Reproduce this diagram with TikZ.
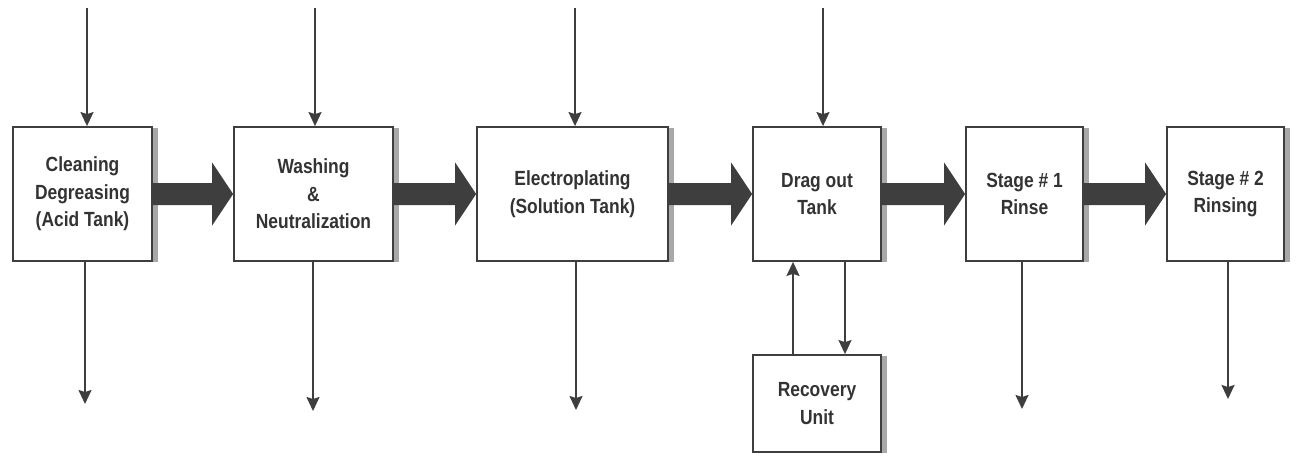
\documentclass[tikz,border=0pt]{standalone}
\usepackage{fontspec}
\setmainfont{Liberation Sans}[FakeStretch=0.85]
\usetikzlibrary{arrows.meta,calc,shadows}
\definecolor{linec}{HTML}{3E3E3E}
\definecolor{textc}{HTML}{333333}
\definecolor{shadc}{HTML}{A8A8A8}
\tikzset{
  proc/.style={draw=linec, line width=1.8pt, fill=white, align=center, inner sep=0pt,
    text=textc, font=\fontsize{20.5}{27.5}\selectfont\bfseries,
    drop shadow={shadow xshift=6pt, shadow yshift=-1pt, fill=shadc, opacity=1}},
  flow/.style={draw=linec, line width=1.8pt, -{Stealth[length=14pt,width=13pt,inset=2pt]}},
  bigarr/.style={fill=linec}
}
\newcommand{\bigarrow}[2]{%
  \fill[bigarr] ($(#1.east)+(0,11)$) -- ($(#2.west)+(-21,11)$) -- ($(#2.west)+(-21,31.5)$) -- (#2.west)
   -- ($(#2.west)+(-21,-31.5)$) -- ($(#2.west)+(-21,-11)$) -- ($(#1.east)+(0,-11)$) -- cycle;}
\begin{document}
\begin{tikzpicture}[x=1pt,y=-1pt]
\useasboundingbox (0,0) rectangle (1297,459);
\node[proc, minimum width=139pt, minimum height=134pt] (b1) at (82.5,194) {Cleaning\\Degreasing\\(Acid Tank)};
\node[proc, minimum width=159pt, minimum height=134pt] (b2) at (313.5,194) {Washing\\\&\\Neutralization};
\node[proc, minimum width=191pt, minimum height=134pt] (b3) at (572.5,194) {Electroplating\\(Solution Tank)};
\node[proc, minimum width=128pt, minimum height=134pt] (b4) at (817,194) {Drag out\\Tank};
\node[proc, minimum width=117pt, minimum height=134pt] (b5) at (1024.5,194) {Stage \# 1\\Rinse};
\node[proc, minimum width=117pt, minimum height=134pt] (b6) at (1225.5,194) {Stage \# 2\\Rinsing};
\node[proc, minimum width=128pt, minimum height=97pt] (rec) at (817,403.5) {Recovery\\Unit};

\bigarrow{b1}{b2}
\bigarrow{b2}{b3}
\bigarrow{b3}{b4}
\bigarrow{b4}{b5}
\bigarrow{b5}{b6}

% inputs
\coordinate (i1) at (87,8);
\coordinate (i2) at (315,8);
\coordinate (i3) at (575,8);
\coordinate (i4) at (823,8);
\draw[flow] (i1) -- (i1 |- b1.north);
\draw[flow] (i2) -- (i2 |- b2.north);
\draw[flow] (i3) -- (i3 |- b3.north);
\draw[flow] (i4) -- (i4 |- b4.north);
% outputs
\coordinate (o1) at (85,404);
\coordinate (o2) at (313,411);
\coordinate (o3) at (576,410);
\coordinate (o5) at (1022,409);
\coordinate (o6) at (1228,399);
\draw[flow] (o1 |- b1.south) -- (o1);
\draw[flow] (o2 |- b2.south) -- (o2);
\draw[flow] (o3 |- b3.south) -- (o3);
\draw[flow] (o5 |- b5.south) -- (o5);
\draw[flow] (o6 |- b6.south) -- (o6);
% recovery loop
\coordinate (u) at (793,0);
\coordinate (d) at (845,0);
\draw[flow] (u |- rec.north) -- (u |- b4.south);
\draw[flow] (d |- b4.south) -- (d |- rec.north);
\end{tikzpicture}
\end{document}
